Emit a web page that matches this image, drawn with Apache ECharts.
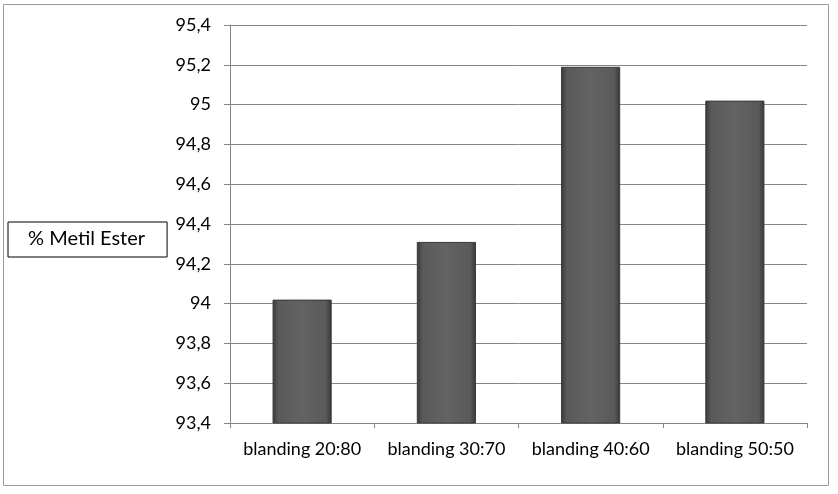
<!DOCTYPE html>
<html>
<head>
<meta charset="utf-8">
<script src="https://cdn.jsdelivr.net/npm/echarts@6/dist/echarts.min.js"></script>
<style>
  html, body { margin: 0; padding: 0; background: #fff; }
  #main { width: 838px; height: 494px; }
</style>
</head>
<body>
<div id="main"></div>
<script>
// data
const categories = ['blanding 20:80', 'blanding 30:70', 'blanding 40:60', 'blanding 50:50']
const metilEster = [94.02, 94.31, 95.19, 95.02]
const seriesName = '% Metil Ester'

const chart = echarts.init(document.getElementById('main'))

// bevel-ish bar fill
const barFill = new echarts.graphic.LinearGradient(0, 0, 1, 0, [
  { offset: 0, color: '#383838' },
  { offset: 0.1, color: '#5a5a5a' },
  { offset: 0.5, color: '#636363' },
  { offset: 0.9, color: '#5a5a5a' },
  { offset: 1, color: '#363636' }
])

const option = {
  animation: false,
  textStyle: { fontFamily: 'Lato' },
  grid: { left: 230, right: 31, top: 25, bottom: 71 },
  legend: {
    left: 8,
    top: 222,
    orient: 'vertical',
    borderColor: '#000',
    borderWidth: 1,
    padding: [7, 22, 8, 15],
    itemWidth: 0,
    itemHeight: 0,
    selectedMode: false,
    textStyle: { fontSize: 20, color: '#000', fontFamily: 'Lato' },
    data: [{ name: seriesName, icon: 'none' }]
  },
  xAxis: {
    type: 'category',
    data: categories,
    axisLine: { lineStyle: { color: '#868686', width: 1 } },
    axisTick: { show: true, length: 5, lineStyle: { color: '#868686' } },
    axisLabel: { color: '#000', fontSize: 18, margin: 17, interval: 0 }
  },
  yAxis: {
    type: 'value',
    min: 93.4,
    max: 95.4,
    interval: 0.2,
    axisLine: { show: true, lineStyle: { color: '#868686' } },
    axisTick: { show: true, length: 6, lineStyle: { color: '#868686' } },
    splitLine: { lineStyle: { color: '#868686', width: 1 } },
    axisLabel: {
      color: '#000',
      fontSize: 18,
      margin: 19,
      formatter: v => String(Math.round(v * 10) / 10).replace('.', ',')
    }
  },
  graphic: [{
    type: 'rect',
    shape: { x: 3.5, y: 4.5, width: 825, height: 481 },
    style: { fill: 'none', stroke: '#9a9a9a', lineWidth: 1 },
    silent: true,
    z: -1
  }],
  series: [{
    name: seriesName,
    type: 'bar',
    data: metilEster,
    barWidth: '41%',
    itemStyle: { color: barFill, borderColor: '#3a3a3a', borderWidth: 1 }
  }]
}

chart.setOption(option)
</script>
</body>
</html>
